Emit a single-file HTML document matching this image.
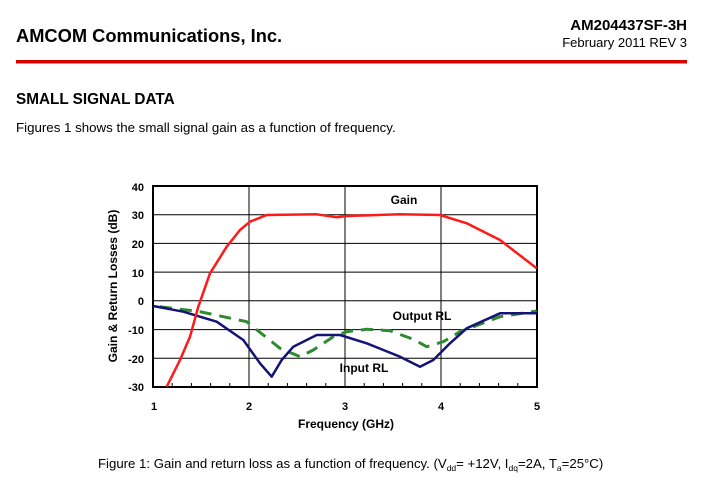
<!DOCTYPE html><html><head><style>body{margin:0;background:#fff;width:702px;height:485px;overflow:hidden;font-family:"Liberation Sans",sans-serif}</style></head><body>
<svg width="702" height="485" xmlns="http://www.w3.org/2000/svg" font-family="Liberation Sans, sans-serif">
<text x="16" y="42" font-size="18.3" font-weight="bold" fill="#000">AMCOM Communications, Inc.</text>
<text x="687" y="30" font-size="15" font-weight="bold" text-anchor="end">AM204437SF-3H</text>
<text x="687" y="47" font-size="13" text-anchor="end">February 2011  REV 3</text>
<rect x="16" y="60" width="671" height="3.5" fill="#d40000"/>
<text x="16" y="104" font-size="15.3" font-weight="bold">SMALL SIGNAL DATA</text>
<text x="16" y="132" font-size="13.3">Figures 1 shows the small signal gain as a function of frequency.</text>
<g stroke="#000" stroke-width="1">
<line x1="153" y1="214.7" x2="537" y2="214.7"/><line x1="153" y1="243.4" x2="537" y2="243.4"/><line x1="153" y1="272.1" x2="537" y2="272.1"/><line x1="153" y1="300.8" x2="537" y2="300.8"/><line x1="153" y1="329.6" x2="537" y2="329.6"/><line x1="153" y1="358.3" x2="537" y2="358.3"/>
<line x1="249" y1="186" x2="249" y2="387"/><line x1="345" y1="186" x2="345" y2="387"/><line x1="441" y1="186" x2="441" y2="387"/>
</g>
<g stroke="#000" stroke-width="1">
<path d="M172.2 387v-4M191.4 387v-4M210.6 387v-4M229.8 387v-4M268.2 387v-4M287.4 387v-4M306.6 387v-4M325.8 387v-4M364.2 387v-4M383.4 387v-4M402.6 387v-4M421.8 387v-4M460.2 387v-4M479.4 387v-4M498.6 387v-4M517.8 387v-4"/>
</g>
<rect x="153" y="186" width="384" height="201" fill="none" stroke="#000" stroke-width="2"/>
<polyline fill="none" stroke="#2e8b2e" stroke-width="3" stroke-linejoin="round" stroke-dasharray="12,8" points="160,306.7 200,311.7 246.7,321.7 280,348.3 300,356.7 313.3,350 333.3,336.7 346.7,331.7 366.7,329.3 390,330.7 413.3,339.3 426.7,346.7 443.3,341.7 460,331.7 500,316.7 536.7,311"/>
<polyline fill="none" stroke="#141478" stroke-width="2.5" stroke-linejoin="round" points="153.3,306 183.3,311.7 216.7,321.7 243.3,340 260,363.3 271.7,376.7 281.7,360 293.3,346.7 316.7,335 340,335 366.7,343.3 400,356.7 420,366.7 433.3,360 450,343.3 466.7,328.3 500,313.3 536.7,313.3"/>
<polyline fill="none" stroke="#ff1a1a" stroke-width="2.5" stroke-linejoin="round" points="166.7,386.7 180,360 190,336.7 198.3,306.7 210,273.3 226.7,246.7 240,230 250,221.7 266.7,215 316.7,214.3 336.7,217.3 346.7,216 400,214.3 440,215 466.7,223.3 500,240 536.7,268.3"/>
<g font-size="11" font-weight="bold" text-anchor="end">
<text x="144" y="191">40</text><text x="144" y="219">30</text><text x="144" y="248">20</text><text x="144" y="277">10</text><text x="144" y="305">0</text><text x="144" y="334">-10</text><text x="144" y="363">-20</text><text x="144" y="391">-30</text>
</g>
<g font-size="11" font-weight="bold" text-anchor="middle">
<text x="154" y="410">1</text><text x="249" y="410">2</text><text x="345" y="410">3</text><text x="441" y="410">4</text><text x="537" y="410">5</text>
<text x="346" y="428" font-size="12">Frequency (GHz)</text>
<text x="404" y="204" font-size="12">Gain</text>
<text x="422" y="320" font-size="12">Output RL</text>
<text x="364" y="372" font-size="12">Input RL</text>
<text transform="translate(117,286) rotate(-90)" font-size="12">Gain &amp; Return Losses (dB)</text>
</g>
<text x="98" y="468" font-size="13.2">Figure 1: Gain and return loss as a function of frequency. (V<tspan font-size="8.5" dy="3">dd</tspan><tspan dy="-3">= +12V, I</tspan><tspan font-size="8.5" dy="3">dq</tspan><tspan dy="-3">=2A, T</tspan><tspan font-size="8.5" dy="3">a</tspan><tspan dy="-3">=25°C)</tspan></text>
</svg>
</body></html>
